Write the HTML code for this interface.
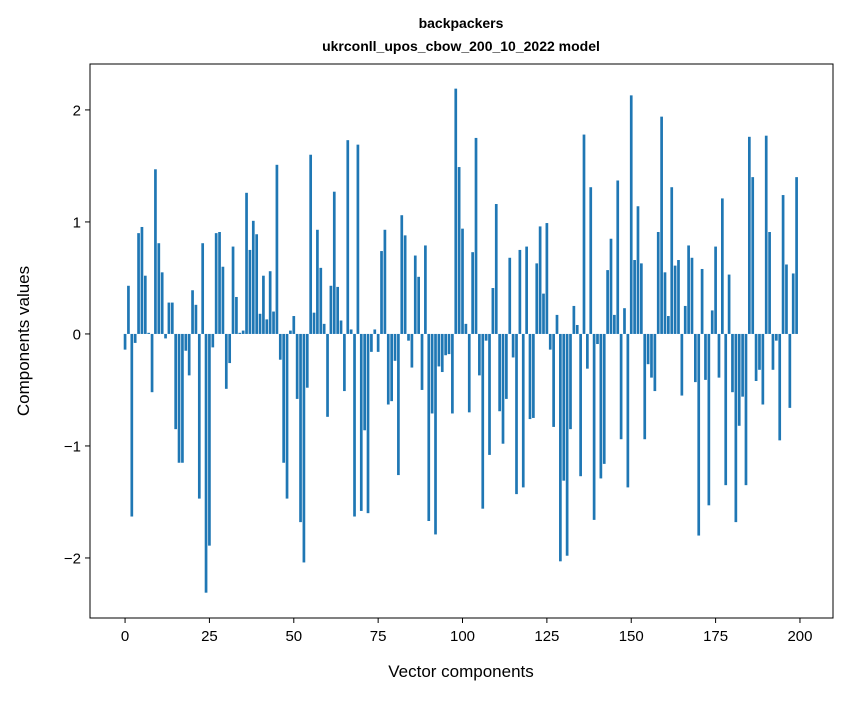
<!DOCTYPE html>
<html><head><meta charset="utf-8"><style>
body{margin:0;background:#fff;}
svg text{font-family:"Liberation Sans","DejaVu Sans",sans-serif;fill:#000;}
</style></head><body>
<svg id="chart" width="847" height="696" xmlns="http://www.w3.org/2000/svg">
<rect width="847" height="696" fill="#fff"/>
<text x="461" y="28" text-anchor="middle" font-size="14" font-weight="bold">backpackers</text>
<text x="461" y="51" text-anchor="middle" font-size="14" font-weight="bold">ukrconll_upos_cbow_200_10_2022 model</text>
<g id="bars"></g>
<g id="xticks"></g>
<g id="yticks"></g>
<rect x="90" y="64" width="743" height="554" fill="none" stroke="#000" stroke-width="1"/>
<text x="461" y="677" text-anchor="middle" font-size="17">Vector components</text>
<text transform="translate(29,341) rotate(-90)" text-anchor="middle" font-size="17">Components values</text>
</svg>
<script>
const values = [-0.14,0.43,-1.63,-0.08,0.90,0.955,0.52,0.01,-0.52,1.47,
0.81,0.55,-0.04,0.28,0.28,-0.85,-1.15,-1.15,-0.15,-0.37,
0.39,0.26,-1.47,0.81,-2.31,-1.89,-0.12,0.90,0.91,0.60,
-0.49,-0.26,0.78,0.33,0.01,0.03,1.26,0.75,1.01,0.89,
0.18,0.52,0.13,0.56,0.20,1.51,-0.23,-1.15,-1.47,0.03,
0.16,-0.58,-1.68,-2.04,-0.48,1.60,0.19,0.93,0.59,0.09,
-0.74,0.43,1.27,0.42,0.12,-0.51,1.73,0.04,-1.63,1.69,
-1.58,-0.86,-1.60,-0.16,0.04,-0.16,0.74,0.93,-0.63,-0.60,
-0.24,-1.26,1.06,0.88,-0.06,-0.30,0.70,0.51,-0.50,0.79,
-1.67,-0.71,-1.79,-0.29,-0.34,-0.19,-0.18,-0.71,2.19,1.49,
0.94,0.09,-0.70,0.73,1.75,-0.37,-1.56,-0.06,-1.08,0.41,
1.16,-0.69,-0.98,-0.58,0.68,-0.21,-1.43,0.75,-1.37,0.78,
-0.76,-0.75,0.63,0.96,0.36,0.99,-0.14,-0.83,0.17,-2.03,
-1.31,-1.98,-0.85,0.25,0.08,-1.27,1.78,-0.31,1.31,-1.66,
-0.09,-1.29,-1.16,0.57,0.85,0.17,1.37,-0.94,0.23,-1.37,
2.13,0.66,1.14,0.63,-0.94,-0.27,-0.39,-0.51,0.91,1.94,
0.55,0.16,1.31,0.61,0.66,-0.55,0.25,0.79,0.68,-0.43,
-1.80,0.58,-0.41,-1.53,0.21,0.78,-0.39,1.21,-1.35,0.53,
-0.52,-1.68,-0.82,-0.56,-1.35,1.76,1.40,-0.42,-0.32,-0.63,
1.77,0.91,-0.32,-0.06,-0.95,1.24,0.62,-0.66,0.54,1.40];
const xTicks = [0,25,50,75,100,125,150,175,200];
const yTicks = [-2,-1,0,1,2];
const yTickLabels = ["\u22122","\u22121","0","1","2"];

const L=90,R=833,T=64,B=618;
const xMin=-10.39,xMax=209.79,yMin=-2.536,yMax=2.41;
function xs(v){return L+(v-xMin)/(xMax-xMin)*(R-L);}
function ys(v){return B-(v-yMin)/(yMax-yMin)*(B-T);}
const NS="http://www.w3.org/2000/svg";
const bars=document.getElementById('bars');
values.forEach((v,i)=>{
  const r=document.createElementNS(NS,'rect');
  const x0=xs(i-0.4),x1=xs(i+0.4);
  const y0=ys(Math.max(v,0)),y1=ys(Math.min(v,0));
  r.setAttribute('x',x0);r.setAttribute('width',x1-x0);
  r.setAttribute('y',y0);r.setAttribute('height',Math.max(y1-y0,0.3));
  r.setAttribute('fill','#1f77b4');
  
  
  bars.appendChild(r);
});
const xg=document.getElementById('xticks');
xTicks.forEach(t=>{
  const x=xs(t);
  const l=document.createElementNS(NS,'line');
  l.setAttribute('x1',x);l.setAttribute('x2',x);l.setAttribute('y1',B);l.setAttribute('y2',B+5);
  l.setAttribute('stroke','#000');
  
  
  xg.appendChild(l);
  const tx=document.createElementNS(NS,'text');
  tx.setAttribute('x',x);tx.setAttribute('y',B+23);tx.setAttribute('text-anchor','middle');tx.setAttribute('font-size','15');
  tx.textContent=t;
  
  
  xg.appendChild(tx);
});
const yg=document.getElementById('yticks');
yTicks.forEach((t,i)=>{
  const y=ys(t);
  const l=document.createElementNS(NS,'line');
  l.setAttribute('x1',L-5);l.setAttribute('x2',L);l.setAttribute('y1',y);l.setAttribute('y2',y);
  l.setAttribute('stroke','#000');
  
  
  yg.appendChild(l);
  const tx=document.createElementNS(NS,'text');
  tx.setAttribute('x',L-9);tx.setAttribute('y',y+5.5);tx.setAttribute('text-anchor','end');tx.setAttribute('font-size','15');
  tx.textContent=yTickLabels[i];
  
  
  yg.appendChild(tx);
});
</script>
</body></html>
